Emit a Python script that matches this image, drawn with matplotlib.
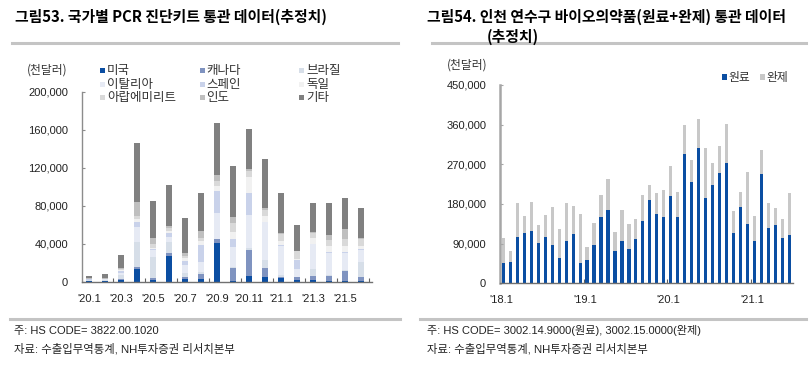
import matplotlib
matplotlib.use('Agg')
import matplotlib.pyplot as plt
import numpy as np
from matplotlib.patches import Rectangle
from matplotlib.lines import Line2D

plt.rcParams['font.family'] = ['Liberation Sans', 'Noto Sans CJK KR', 'DejaVu Sans']
KR = ['Noto Sans CJK KR', 'DejaVu Sans']
NUM = ['Liberation Sans', 'Noto Sans CJK KR']

# ---- 그림53 data (천달러 / 1000) ----
months_l = ["'20.1", "'20.2", "'20.3", "'20.4", "'20.5", "'20.6", "'20.7", "'20.8", "'20.9",
            "'20.10", "'20.11", "'20.12", "'21.1", "'21.2", "'21.3", "'21.4", "'21.5", "'21.6"]
us = [0.3, 0.8, 1.8, 13, 2, 27.4, 3.2, 2.5, 40.7, 0.3, 6.3, 5.3, 3.5, 1.8, 1.8, 0.3, 0.7, 0.7]
ca = [0.3, 0.3, 0.7, 2.5, 1.8, 3.2, 2, 6, 3.9, 14.4, 27, 9.5, 1.8, 2.8, 4.2, 6, 10.9, 4.6]
br = [0.8, 0.5, 4.5, 26, 22.5, 11.6, 3.5, 1.5, 0.5, 0.5, 2.5, 8, 1.8, 0.5, 7, 0.5, 0.5, 15.8]
it = [0.8, 0.8, 2.5, 16, 7, 5.3, 8.8, 11, 27.4, 21.4, 34, 40, 30.9, 8.4, 26.7, 23.9, 18.2, 12.3]
es = [0.3, 0.3, 2, 5, 0.7, 4.2, 4.5, 18, 23.5, 8.8, 23.2, 0.5, 0.5, 9.1, 0.5, 0.5, 0.5, 0.5]
de = [0.3, 0.3, 1, 3, 2, 1.8, 3, 3.5, 4.5, 7.4, 16.8, 6, 4.2, 1.8, 5.3, 6.3, 6.3, 3.5]
ae = [0.3, 0.3, 1, 4, 3.5, 3, 2.5, 3, 6, 9.5, 6.4, 6.3, 7.8, 7.7, 6, 6.7, 7.7, 7.7]
ind = [0.3, 0.8, 0.5, 14, 7, 2.5, 2.8, 7.5, 6.3, 6.3, 2, 2.5, 1, 0.5, 0.5, 4.6, 10.5, 0.5]
etc = [2.8, 3.5, 14, 62, 38, 42.5, 37, 40, 54, 53, 42.8, 50.9, 42, 27.4, 30.5, 34, 32.6, 31.6]

names_l = ['미국', '캐나다', '브라질', '이탈리아', '스페인', '독일', '아랍에미리트', '인도', '기타']
series_l = [us, ca, br, it, es, de, ae, ind, etc]
colors_l = ['#0b4ea2', '#7f93c0', '#d6dee8', '#e6eaf4', '#c9d2ea', '#f1f1f1', '#d9d9d9', '#bfbfbf', '#808080']
yticks_l = [0, 40, 80, 120, 160, 200]

# ---- 그림54 data (천달러 / 1000) ----
months_r = ["'%d.%d" % (y, m) for y in (18, 19, 20, 21) for m in range(1, 13)][:42]
raw = [47, 49, 104, 115, 119, 92, 104, 88, 57, 96, 111, 45,
       53, 88, 150, 166, 73, 95, 77, 100, 141, 188, 157, 151,
       199, 151, 293, 231, 307, 194, 222, 250, 272, 114, 174, 135,
       97, 247, 126, 132, 102, 110]
fin = [55, 24, 78, 38, 66, 40, 51, 86, 66, 87, 64, 112,
       30, 48, 50, 71, 43, 71, 58, 46, 59, 36, 47, 60,
       67, 56, 66, 49, 65, 112, 50, 61, 89, 50, 33, 117,
       56, 56, 57, 39, 45, 95]
yticks_r = [0, 90, 180, 270, 360, 450]

W, H = 811, 366
fig = plt.figure(figsize=(W / 100, H / 100), dpi=100)


def fx(px):
    return px / W


def fy(py):
    return 1 - py / H


def hline(x0, x1, y):
    fig.add_artist(Line2D([fx(x0), fx(x1)], [fy(y), fy(y)], transform=fig.transFigure,
                          color='#c4c4c4', lw=2.2))


def legend_item(x, y, col, label, size=9):
    fig.add_artist(Rectangle((fx(x), fy(y + 2.6)), 5.2 / W, 5.2 / H, transform=fig.transFigure,
                             facecolor=col, edgecolor='none'))
    fig.text(fx(x + 7), fy(y), label, family=KR, fontsize=size, color='#333333', va='center', ha='left')


# titles & separator lines
fig.text(fx(15), fy(17), '그림53. 국가별 PCR 진단키트 통관 데이터(추정치)', family=KR,
         fontsize=10.7, fontweight='bold', va='center', ha='left')
fig.text(fx(427), fy(17), '그림54. 인천 연수구 바이오의약품(원료+완제) 통관 데이터', family=KR,
         fontsize=10.7, fontweight='bold', va='center', ha='left')
fig.text(fx(487), fy(37), '(추정치)', family=KR, fontsize=10.7, fontweight='bold', va='center', ha='left')
hline(12, 398, 43)
hline(432, 806, 43)
hline(10, 400, 319)
hline(420, 806, 319)

# ---- left chart ----
axL = fig.add_axes([fx(82), fy(281.7), fx(372) - fx(82), fy(91.7) - fy(281.7)])
xl = np.arange(len(months_l))
bottom = np.zeros(len(xl))
for vals, col in zip(series_l, colors_l):
    axL.bar(xl, vals, 0.42, bottom=bottom, color=col, linewidth=0)
    bottom += np.array(vals)
axL.set_xlim(-0.44, len(months_l) - 0.31)
axL.set_ylim(0, 200)
axL.set_yticks(yticks_l)
axL.set_yticklabels([f'{t * 1000:,}' for t in yticks_l], family=NUM)
axL.set_xticks(xl[::2])
axL.set_xticklabels(months_l[::2], family=NUM)
axL.set_xticks(xl[1::2] + 0.5, minor=True)

fig.text(fx(27), fy(70), '(천달러)', family=KR, fontsize=8.5, color='#333333', va='center', ha='left')
for i, (name, col) in enumerate(zip(names_l, colors_l)):
    legend_item(100 + 99.5 * (i % 3), 70.5 + 13.6 * (i // 3), col, name)

# ---- right chart ----
axR = fig.add_axes([fx(500), fy(283.3), fx(793) - fx(500), fy(85) - fy(283.3)])
xr = np.arange(len(months_r))
axR.bar(xr, raw, 0.45, color='#0b4ea2', linewidth=0)
axR.bar(xr, fin, 0.45, bottom=raw, color='#c8c8c8', linewidth=0)
axR.set_xlim(-0.47, len(months_r) - 0.5)
axR.set_ylim(0, 450)
axR.set_yticks(yticks_r)
axR.set_yticklabels([f'{t * 1000:,}' for t in yticks_r], family=NUM)
axR.set_xticks(xr[::12] - 0.3)
axR.set_xticklabels(months_r[::12], family=NUM)
axR.set_xticks(xr[12::12] - 0.5, minor=True)

fig.text(fx(447), fy(65), '(천달러)', family=KR, fontsize=8.5, color='#333333', va='center', ha='left')
legend_item(721.5, 77, '#0b4ea2', '원료', 8.5)
legend_item(759.5, 77, '#c8c8c8', '완제', 8.5)

for ax, ycol, ylw in ((axL, '#8c8c8c', 1.0), (axR, '#a6a6a6', 1.8)):
    for s in ('top', 'right'):
        ax.spines[s].set_visible(False)
    ax.spines['left'].set_color(ycol)
    ax.spines['left'].set_linewidth(ylw)
    ax.spines['bottom'].set_color('#707070')
    ax.spines['bottom'].set_linewidth(1.0)
    ax.tick_params(axis='y', direction='in', length=2.5, width=0.8, color=ycol, pad=10,
                   labelsize=8, labelcolor='#222222')
    ax.tick_params(axis='x', which='major', length=0, pad=8.5, labelsize=8, labelcolor='#222222')
    ax.tick_params(axis='x', which='minor', direction='in', length=3, width=0.8, color='#606060')

# footnotes
for x0, note in ((14, '주: HS CODE= 3822.00.1020'), (427, '주: HS CODE= 3002.14.9000(원료), 3002.15.0000(완제)')):
    fig.text(fx(x0), fy(331), note, fontsize=8, color='#222222', va='center', ha='left')
    fig.text(fx(x0), fy(349), '자료: 수출입무역통계, NH투자증권 리서치본부', fontsize=8.2,
             color='#222222', va='center', ha='left')

fig.savefig('out.png', dpi=100)
